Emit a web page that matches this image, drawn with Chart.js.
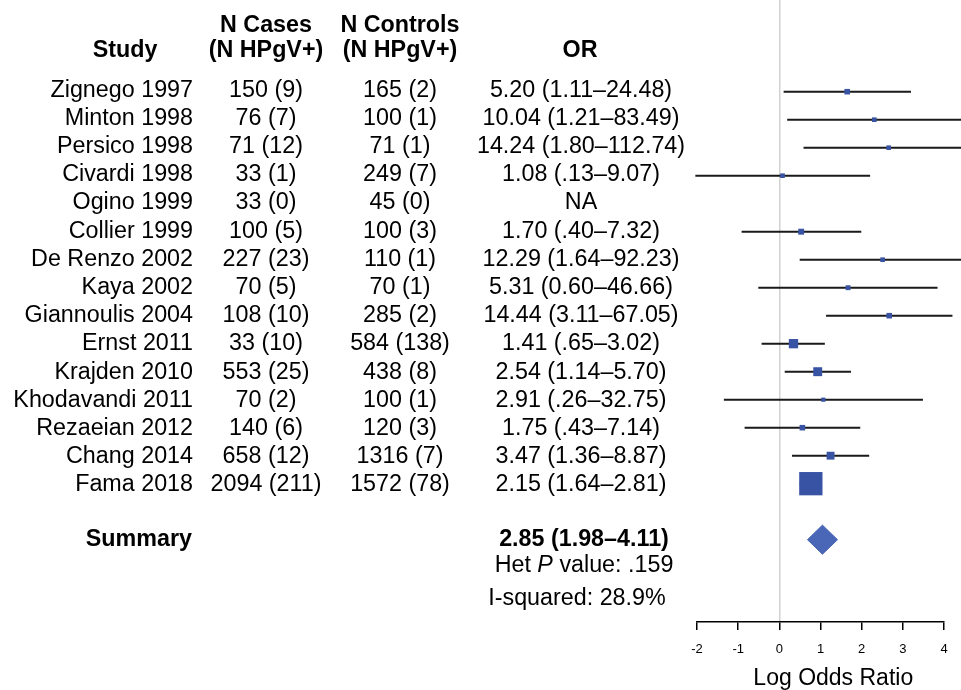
<!DOCTYPE html>
<html>
<head>
<meta charset="utf-8">
<script src="https://cdn.jsdelivr.net/npm/chart.js@4"></script>
<style>
  body { margin: 0; background: #fff; }
  #wrap { width: 961px; height: 690px; }
</style>
</head>
<body>
<div id="wrap"><canvas id="forest" width="961" height="690"></canvas></div>
<script>
// ---- data ----
const studies = ['Zignego 1997', 'Minton 1998', 'Persico 1998', 'Civardi 1998', 'Ogino 1999',
  'Collier 1999', 'De Renzo 2002', 'Kaya 2002', 'Giannoulis 2004', 'Ernst 2011',
  'Krajden 2010', 'Khodavandi 2011', 'Rezaeian 2012', 'Chang 2014', 'Fama 2018'];
const casesTotal = [150, 76, 71, 33, 33, 100, 227, 70, 108, 33, 553, 70, 140, 658, 2094];
const casesPos = [9, 7, 12, 1, 0, 5, 23, 5, 10, 10, 25, 2, 6, 12, 211];
const controlsTotal = [165, 100, 71, 249, 45, 100, 110, 70, 285, 584, 438, 100, 120, 1316, 1572];
const controlsPos = [2, 1, 1, 7, 0, 3, 1, 1, 2, 138, 8, 1, 3, 7, 78];
const orLabels = ['5.20 (1.11\u201324.48)', '10.04 (1.21\u201383.49)', '14.24 (1.80\u2013112.74)',
  '1.08 (.13\u20139.07)', 'NA', '1.70 (.40\u20137.32)', '12.29 (1.64\u201392.23)',
  '5.31 (0.60\u201346.66)', '14.44 (3.11\u201367.05)', '1.41 (.65\u20133.02)',
  '2.54 (1.14\u20135.70)', '2.91 (.26\u201332.75)', '1.75 (.43\u20137.14)',
  '3.47 (1.36\u20138.87)', '2.15 (1.64\u20132.81)'];
// log odds ratio, lower and upper 95% limits (null = not estimable)
const logOR = [1.6487, 2.3066, 2.6560, 0.0770, null, 0.5306, 2.5088, 1.6696, 2.6700, 0.3436, 0.9322, 1.0682, 0.5596, 1.2442, 0.7655];
const logLo = [0.1044, 0.1906, 0.5878, -2.0402, null, -0.9163, 0.4947, -0.5108, 1.1346, -0.4308, 0.1310, -1.3471, -0.8440, 0.3075, 0.4947];
const logHi = [3.1979, 4.4247, 4.7251, 2.2050, null, 1.9906, 4.5243, 3.8429, 4.2054, 1.1053, 1.7405, 3.4889, 1.9657, 2.1827, 1.0332];
// relative study weight (%), sets box size
const weights = [2.7, 1.8, 1.8, 1.8, 0, 3.1, 1.8, 2.0, 2.7, 8.3, 7.6, 1.4, 2.7, 5.8, 56.5];
const summaryLabel = '2.85 (1.98\u20134.11)';
const summaryLog = [1.0473, 0.6831, 1.4134]; // est, lo, hi
const hetP = '.159';
const iSquared = '28.9%';
const xTicks = [-2, -1, 0, 1, 2, 3, 4];

const SUMMARY_ROW = studies.length + 2;
const FONT = '"Liberation Sans", Arial, Helvetica, sans-serif';
const FS = '23.3px ';
const BOX_BLUE = '#3953a4';
const DIAMOND_BLUE = '#4a66b6';

// ---- datasets ----
const boxPoints = [];
studies.forEach((s, i) => {
  if (logOR[i] !== null) boxPoints.push({ x: logOR[i], y: i + 1, w: weights[i] });
});

const ciSets = [];
studies.forEach((s, i) => {
  if (logOR[i] === null) return;
  ciSets.push({
    data: [{ x: logLo[i], y: i + 1 }, { x: logHi[i], y: i + 1 }],
    showLine: true,
    borderColor: '#1a1a1a',
    borderWidth: 2,
    pointRadius: 0,
    clip: false,
    order: 3
  });
});

const dh = 0.52; // half height of the summary diamond, in rows
const diamond = {
  data: [
    { x: summaryLog[1], y: SUMMARY_ROW },
    { x: summaryLog[0], y: SUMMARY_ROW - dh },
    { x: summaryLog[2], y: SUMMARY_ROW },
    { x: summaryLog[0], y: SUMMARY_ROW + dh },
    { x: summaryLog[1], y: SUMMARY_ROW }
  ],
  showLine: true,
  fill: 'shape',
  backgroundColor: DIAMOND_BLUE,
  borderColor: DIAMOND_BLUE,
  borderWidth: 1,
  pointRadius: 0,
  clip: false,
  order: 1
};

const boxes = {
  data: boxPoints,
  pointStyle: 'rect',
  pointRadius: ctx => {
    const w = ctx.raw ? ctx.raw.w : 1;
    const side = 22.7 * Math.sqrt(w / 56.5) + 0.6;
    return side / Math.SQRT2;
  },
  backgroundColor: BOX_BLUE,
  borderColor: BOX_BLUE,
  borderWidth: 0,
  clip: false,
  order: 0
};

// ---- table text drawn next to the plot (alphabetic baselines) ----
const tablePlugin = {
  id: 'forestTable',
  afterDraw(chart) {
    const ctx = chart.ctx;
    const ys = chart.scales.y;
    ctx.save();
    ctx.fillStyle = '#000';
    ctx.textBaseline = 'alphabetic';

    // headers
    ctx.font = 'bold ' + FS + FONT;
    ctx.textAlign = 'center';
    ctx.fillText('Study', 125, 57);
    ctx.fillText('N Cases', 266, 32);
    ctx.fillText('(N HPgV+)', 266, 57);
    ctx.fillText('N Controls', 400, 32);
    ctx.fillText('(N HPgV+)', 400, 57);
    ctx.fillText('OR', 580, 57);

    // rows (text lines run a touch looser than the plot rows)
    ctx.font = FS + FONT;
    studies.forEach((s, i) => {
      const py = ys.getPixelForValue(i + 1) + 5 + i * 0.2;
      ctx.textAlign = 'right';
      ctx.fillText(s, 193, py);
      ctx.textAlign = 'center';
      ctx.fillText(casesTotal[i] + ' (' + casesPos[i] + ')', 266, py);
      ctx.fillText(controlsTotal[i] + ' (' + controlsPos[i] + ')', 400, py);
      ctx.fillText(orLabels[i], 581, py);
    });

    // summary
    const sy = ys.getPixelForValue(SUMMARY_ROW) + 6;
    ctx.font = 'bold ' + FS + FONT;
    ctx.textAlign = 'right';
    ctx.fillText('Summary', 192, sy);
    ctx.textAlign = 'center';
    ctx.fillText(summaryLabel, 584, sy);

    // Het P value with italic P
    ctx.textAlign = 'left';
    const parts = [['Het ', FS], ['P', 'italic ' + FS], [' value: ' + hetP, FS]];
    let total = 0;
    parts.forEach(p => { ctx.font = p[1] + FONT; total += ctx.measureText(p[0]).width; });
    let px = 584 - total / 2;
    parts.forEach(p => {
      ctx.font = p[1] + FONT;
      ctx.fillText(p[0], px, sy + 26);
      px += ctx.measureText(p[0]).width;
    });

    ctx.font = FS + FONT;
    ctx.textAlign = 'center';
    ctx.fillText('I-squared: ' + iSquared, 577, sy + 59);
    ctx.restore();
  }
};

new Chart(document.getElementById('forest'), {
  type: 'scatter',
  data: { datasets: [boxes, diamond, ...ciSets] },
  options: {
    responsive: false,
    animation: false,
    events: [],
    layout: { autoPadding: false, padding: { left: 697, right: 17, top: 0, bottom: 0 } },
    plugins: { legend: { display: false }, tooltip: { enabled: false } },
    scales: {
      x: {
        type: 'linear',
        min: xTicks[0],
        max: xTicks[xTicks.length - 1],
        afterBuildTicks: scale => { scale.ticks = xTicks.map(v => ({ value: v })); },
        afterFit: scale => { scale.height = 68; },
        grid: {
          drawOnChartArea: true,
          color: c => (c.tick && c.tick.value === 0 ? '#d2d2d2' : 'rgba(0,0,0,0)'),
          lineWidth: 1.5,
          tickColor: '#000',
          tickLength: 8,
          tickWidth: 1.5
        },
        border: { display: true, color: '#000', width: 1.5 },
        ticks: {
          color: '#000',
          padding: 12,
          font: { family: FONT, size: 13 },
          maxRotation: 0
        },
        title: {
          display: true,
          // title sits a little right of the axis centre in the original
          text: '    Log Odds Ratio',
          color: '#000',
          font: { family: FONT, size: 23, lineHeight: 1 },
          padding: { top: 0, bottom: 0 }
        }
      },
      y: {
        type: 'linear',
        reverse: true,
        min: -2.275,
        max: 19.94,
        display: false
      }
    }
  },
  plugins: [tablePlugin]
});
</script>
</body>
</html>
